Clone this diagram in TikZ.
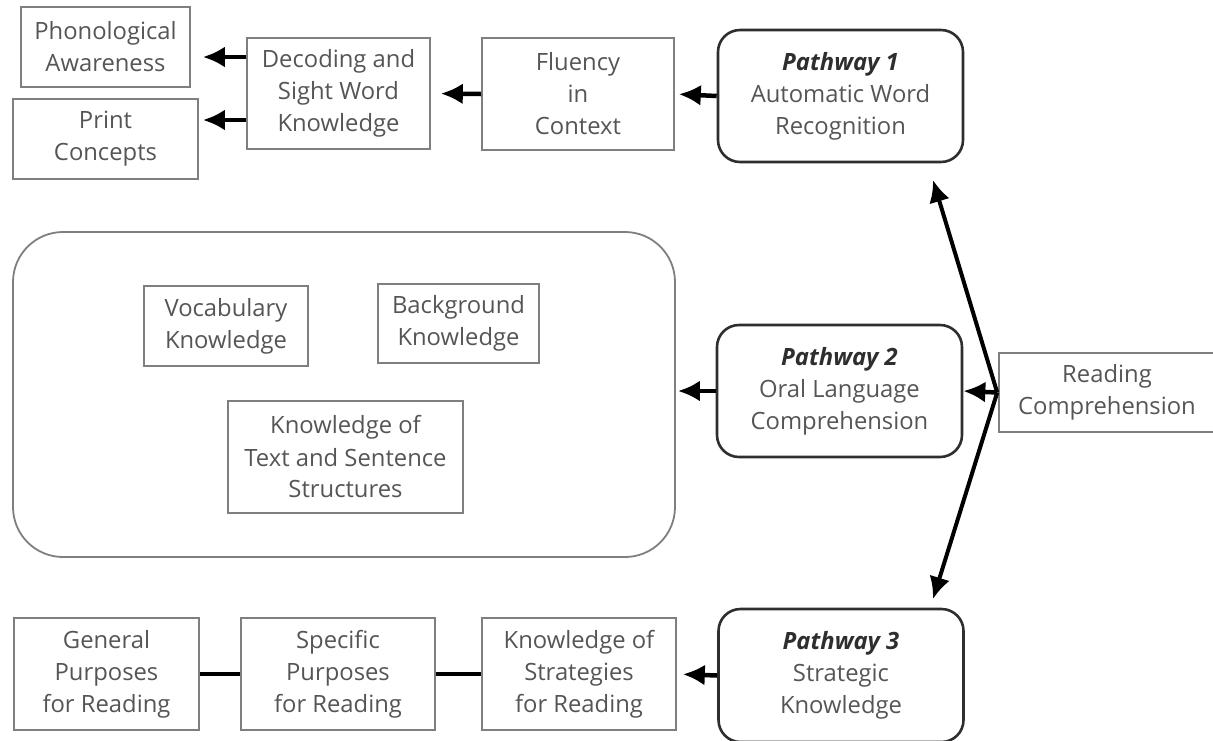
\documentclass[tikz,border=0pt]{standalone}
\usepackage{fontspec}
\setmainfont{Open Sans}
\usetikzlibrary{arrows.meta}
\definecolor{txtgray}{HTML}{555555}
\definecolor{boxgray}{HTML}{7F7F7F}
\definecolor{pathgray}{HTML}{2E2E2E}
\tikzset{>={Latex[length=22pt,width=21pt]},
    every node/.style={font=\fontsize{23.8}{32}\selectfont,align=center,text=txtgray,inner sep=0pt},
    box/.style={draw=boxgray,line width=1.6pt},
    pathbox/.style={draw=pathgray,line width=2.6pt,rounded corners=22pt,minimum width=245pt,minimum height=132pt},
    link/.style={line width=4.5pt}}
\newcommand{\pw}[1]{{\bfseries\itshape\color{pathgray}Pathway #1}}

\begin{document}
\begin{tikzpicture}[x=1pt,y=-1pt]
    \useasboundingbox (0,0) rectangle (1213,740);
    \foreach \n/\x/\y/\w/\h/\t in {phon/105.5/47/169/80/Phonological\\Awareness,
        print/105.5/139/185/80/Print\\Concepts,
        decod/338.5/93.5/183/111/Decoding and\\Sight Word\\Knowledge,
        fluen/578/94/192/112/Fluency\\in\\Context,
        vocab/226/326/164/80/Vocabulary\\Knowledge,
        backg/458.5/323.5/161/79/Background\\Knowledge,
        ktext/345.5/457/235/112/Knowledge of\\Text and Sentence\\Structures,
        readc/1107/392.5/216/79/Reading\\Comprehension,
        gener/106.5/674/185/112/General\\Purposes\\for Reading,
        speci/338/674/194/112/Specific\\Purposes\\for Reading,
        kstrat/579/674/194/112/Knowledge of\\Strategies\\for Reading}{
        \node[box,minimum width=\w pt,minimum height=\h pt] (\n) at (\x,\y) {\t};
    }
    \node[draw=boxgray,line width=1.8pt,rounded corners=50pt,minimum width=662pt,minimum height=325pt] (big) at (344,394.5) {};

    \node[pathbox] (path1) at (840.5,96) {\pw{1}\\Automatic Word\\Recognition};
    \node[pathbox] (path2) at (839.5,391) {\pw{2}\\Oral Language\\Comprehension};
    \node[pathbox,minimum height=133pt] (path3) at (841,675.5) {\pw{3}\\Strategic\\Knowledge};

    % arrows along the rows
    \draw[->,link,shorten >=4pt] (path1.west) -- (fluen.east);
    \draw[->,link,shorten >=10pt] (fluen.west) -- (decod.east);
    \draw[->,link,shorten >=12pt] ([yshift=36.5pt]decod.west) -- ([yshift=36.5pt]decod.west -| phon.east);
    \draw[->,link,shorten >=4pt] ([yshift=-26.5pt]decod.west) -- ([yshift=-26.5pt]decod.west -| print.east);
    \draw[->,link,shorten >=2pt] (path2.west) -- (path2.west -| big.east);
    \draw[->,link,shorten >=6pt] (path3.west) -- (kstrat.east);
    \draw[link] (gener.east) -- (speci.west);
    \draw[link] (speci.east) -- (kstrat.west);

    % fan out of reading comprehension
    \coordinate (hub) at ([xshift=-1pt]readc.west);
    \coordinate (p1tip) at (933,180);
    \coordinate (p3tip) at (933,599);
    \draw[->,link] (hub) -- (path2.east);
    \draw[->,line width=4pt] (hub) -- (p1tip);
    \draw[->,line width=4pt] (hub) -- (p3tip);
\end{tikzpicture}
\end{document}
